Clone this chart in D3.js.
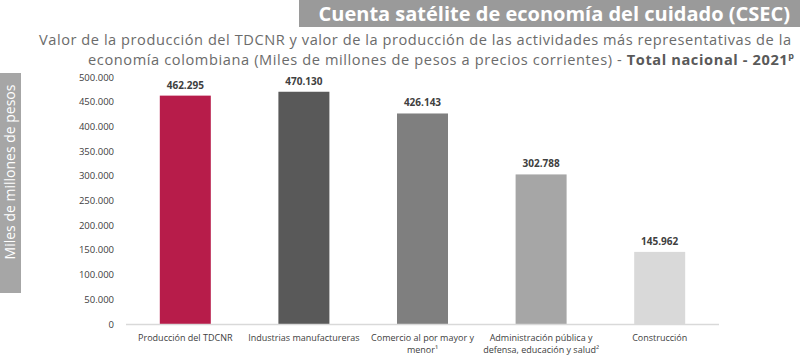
<!DOCTYPE html>
<html><head><meta charset="utf-8">
<script src="https://cdn.jsdelivr.net/npm/d3@7"></script>
<style>body{margin:0;background:#fff}svg{display:block}</style>
</head><body>
<svg id="c" width="800" height="359"></svg>
<script>
const categories = [
  ["Producción del TDCNR"],
  ["Industrias manufactureras"],
  ["Comercio al por mayor y", "menor¹"],
  ["Administración pública y", "defensa, educación y salud²"],
  ["Construcción"]
];
const values = [462295, 470130, 426143, 302788, 145962];
const colors = ["#B71C4A", "#595959", "#7F7F7F", "#A6A6A6", "#D9D9D9"];
const yTicks = [0, 50000, 100000, 150000, 200000, 250000, 300000, 350000, 400000, 450000, 500000];
const title = "Cuenta satélite de economía del cuidado (CSEC)";
const subtitle1 = "Valor de la producción del TDCNR y valor de la producción de las actividades más representativas de la";
const subtitle2a = "economía colombiana (Miles de millones de pesos a precios corrientes) - ";
const subtitle2b = "Total nacional - 2021";
const yLabel = "Miles de millones de pesos";

const fmt = v => d3.format(",")(v).replace(/,/g, ".");
const svg = d3.select("#c");
const font = "'Open Sans', 'Noto Sans', sans-serif";

// Title box
svg.append("rect").attr("x", 299).attr("y", 0).attr("width", 501).attr("height", 27).attr("fill", "#9A9A9A");
svg.append("text").attr("x", 790).attr("y", 21).attr("text-anchor", "end")
  .attr("font-family", font).attr("font-weight", "bold").attr("font-size", 20).attr("fill", "#fff")
  .text(title);

// Subtitle
svg.append("text").attr("x", 39).attr("y", 45)
  .attr("textLength", 752).attr("lengthAdjust", "spacing")
  .attr("font-family", font).attr("font-size", 14.6).attr("fill", "#6b6b6b")
  .text(subtitle1);
const st2 = svg.append("text").attr("x", 88).attr("y", 65)
  .attr("textLength", 706).attr("lengthAdjust", "spacing")
  .attr("font-family", font).attr("font-size", 14.6).attr("fill", "#6b6b6b");
st2.append("tspan").text(subtitle2a);
st2.append("tspan").attr("font-weight", "bold").attr("fill", "#595959").text(subtitle2b);
st2.append("tspan").attr("font-weight", "bold").attr("fill", "#595959").attr("font-size", 9).attr("dy", -6).text("p");

// Y label box
svg.append("rect").attr("x", 0).attr("y", 73).attr("width", 21).attr("height", 220).attr("fill", "#A6A6A6");
svg.append("text").attr("transform", "translate(15,172) rotate(-90)").attr("text-anchor", "middle")
  .attr("font-family", font).attr("font-size", 14).attr("fill", "#fff").text(yLabel);

// Scales
const x = d3.scaleBand().domain(d3.range(values.length)).range([126, 719]).paddingInner(0.57).paddingOuter(0.285);
const y = d3.scaleLinear().domain([0, 500000]).range([324, 77]);

// Y axis
const yAxis = svg.append("g").attr("transform", "translate(114,0)")
  .call(d3.axisLeft(y).tickValues(yTicks).tickSize(0).tickPadding(0).tickFormat(fmt));
yAxis.select(".domain").remove();
yAxis.selectAll("text").attr("font-family", font).attr("font-size", 9.5).attr("fill", "#404040");

// Bars
svg.append("g").selectAll("rect").data(values).join("rect")
  .attr("x", (d, i) => x(i)).attr("width", x.bandwidth())
  .attr("y", d => y(d)).attr("height", d => y(0) - y(d))
  .attr("fill", (d, i) => colors[i]);

// Baseline
svg.append("line").attr("x1", 126).attr("x2", 719).attr("y1", 324.5).attr("y2", 324.5)
  .attr("stroke", "#D9D9D9").attr("stroke-width", 1.5);

// Value labels
svg.append("g").selectAll("text").data(values).join("text")
  .attr("x", (d, i) => x(i) + x.bandwidth() / 2).attr("y", d => y(d) - 7)
  .attr("text-anchor", "middle").attr("font-family", font).attr("font-weight", "bold")
  .attr("font-size", 10).attr("fill", "#404040").text(fmt);

// X labels
const xl = svg.append("g").selectAll("text").data(categories).join("text")
  .attr("x", (d, i) => x(i) + x.bandwidth() / 2).attr("y", 341)
  .attr("text-anchor", "middle").attr("font-family", font).attr("font-size", 9).attr("fill", "#404040");
xl.selectAll("tspan").data(d => d).join("tspan")
  .attr("x", function() { return this.parentNode.getAttribute("x"); })
  .attr("dy", (d, j) => j === 0 ? 0 : 12).text(d => d);
</script>
</body></html>
